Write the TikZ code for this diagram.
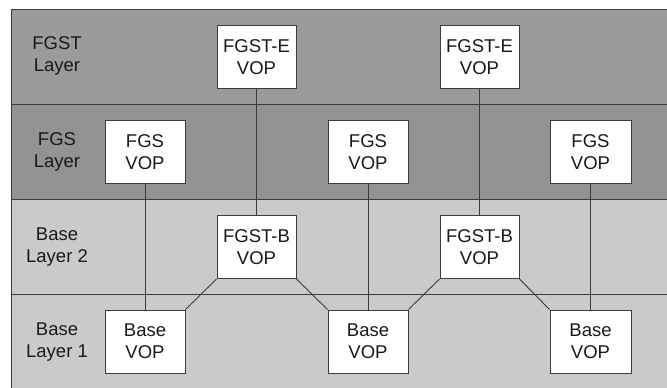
\documentclass[tikz,border=0pt]{standalone}
\usepackage{fontspec}
\setmainfont{Liberation Sans}
\definecolor{bandA}{RGB}{155,155,155}
\definecolor{bandB}{RGB}{147,147,147}
\definecolor{bandC}{RGB}{202,202,202}
\definecolor{lineC}{RGB}{60,60,60}
\definecolor{txtC}{RGB}{25,25,25}
\begin{document}
\begin{tikzpicture}[x=1pt,y=-1pt,
  vop/.style={draw=lineC,line width=1pt,fill=white,minimum width=79pt,minimum height=63pt,inner sep=0pt,align=center,text=txtC,font=\fontsize{18.5}{22}\selectfont},
  lbl/.style={align=center,text=txtC,font=\fontsize{18.5}{22}\selectfont},
  conn/.style={draw=lineC,line width=0.9pt}]
\useasboundingbox (0,0) rectangle (667,388);
\fill[white] (0,0) rectangle (667,388);
% bands
\fill[bandA] (11,9) rectangle (672,104);
\fill[bandB] (11,104) rectangle (672,199);
\fill[bandC] (11,199) rectangle (672,392);
\draw[lineC,line width=1pt] (672,9) -- (11,9) -- (11,392);
\draw[lineC,line width=1pt] (11,104) -- (672,104);
\draw[lineC,line width=1pt] (11,199) -- (672,199);
\draw[lineC,line width=1pt] (11,294) -- (672,294);
% layer labels
\node[lbl] (l1) at (57,56) {FGST\\Layer};
\node[lbl] (l2) at (57,152) {FGS\\Layer};
\node[lbl] (l3) at (57,247) {Base\\Layer 2};
\node[lbl] (l4) at (57,342) {Base\\Layer 1};
% box centres
\coordinate (e1c) at (256.5,57);
\coordinate (e2c) at (479.5,57);
\coordinate (f1c) at (145,152);
\coordinate (f2c) at (368,152);
\coordinate (f3c) at (590.5,152);
\coordinate (b1c) at (256.5,247);
\coordinate (b2c) at (479.5,247);
\coordinate (p1c) at (145,341.5);
\coordinate (p2c) at (368,341.5);
\coordinate (p3c) at (590.5,341.5);
% boxes
\node[vop] (e1) at (e1c) {FGST-E\\VOP};
\node[vop] (e2) at (e2c) {FGST-E\\VOP};
\node[vop,minimum width=80pt] (f1) at (f1c) {FGS\\VOP};
\node[vop,minimum width=80pt] (f2) at (f2c) {FGS\\VOP};
\node[vop,minimum width=81pt] (f3) at (f3c) {FGS\\VOP};
\node[vop] (b1) at (b1c) {FGST-B\\VOP};
\node[vop] (b2) at (b2c) {FGST-B\\VOP};
\node[vop,minimum width=80pt] (p1) at (p1c) {Base\\VOP};
\node[vop,minimum width=80pt] (p2) at (p2c) {Base\\VOP};
\node[vop,minimum width=81pt] (p3) at (p3c) {Base\\VOP};
% connectors
\draw[conn] (e1.south) -- (b1.north);
\draw[conn] (e2.south) -- (b2.north);
\draw[conn] (f1.south) -- (p1.north);
\draw[conn] (f2.south) -- (p2.north);
\draw[conn] (f3.south) -- (p3.north);
\draw[conn] (b1.south west) -- (p1.north east);
\draw[conn] (b1.south east) -- (p2.north west);
\draw[conn] (b2.south west) -- (p2.north east);
\draw[conn] (b2.south east) -- (p3.north west);
\end{tikzpicture}
\end{document}
